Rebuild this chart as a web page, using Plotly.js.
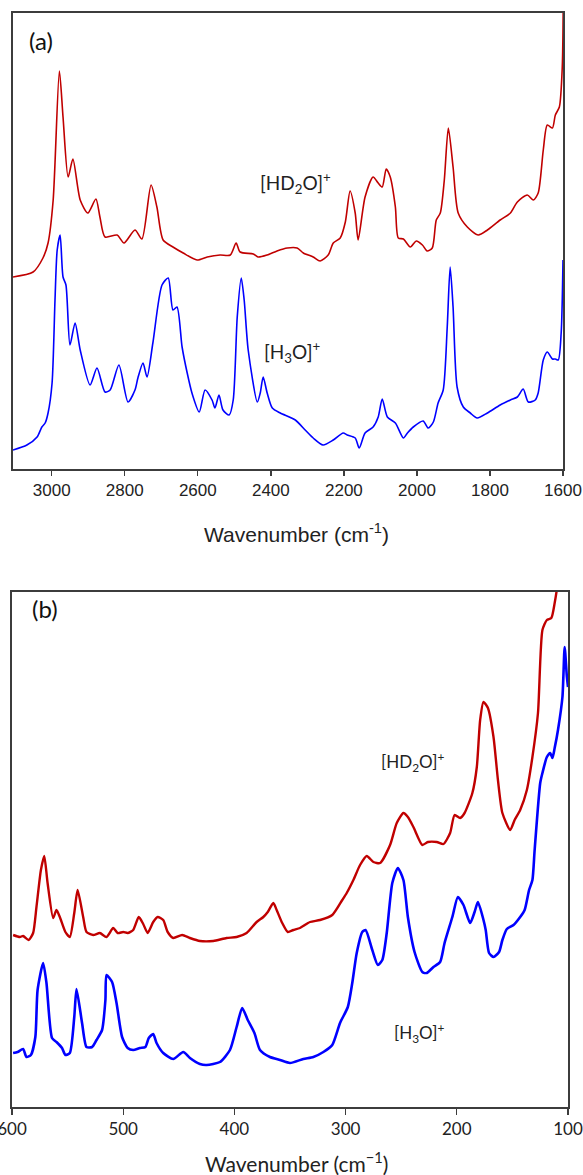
<!DOCTYPE html>
<html>
<head>
<meta charset="utf-8">
<script src="https://cdn.plot.ly/plotly-3.0.1.min.js"></script>
<style>html,body{margin:0;padding:0;background:#fff;}#chart{width:583px;height:1175px;}</style>
</head>
<body>
<div id="chart"></div>
<script>
// Panel (a): 3100-1600 cm-1, intensity in arbitrary units
const redA_wn = [3106,3051,3024,3010,2996,2979,2969,2955,2942,2922,2901,2879,2868,2854,2821,2802,2772,2753,2728,2712,2695,2668,2640,2602,2574,2539,2511,2495,2484,2448,2435,2410,2383,2355,2328,2311,2284,2265,2243,2229,2210,2196,2183,2169,2161,2142,2120,2106,2095,2084,2073,2059,2051,2037,2018,2002,1985,1972,1958,1947,1936,1925,1914,1901,1887,1862,1832,1807,1772,1744,1725,1698,1681,1668,1654,1643,1629,1621,1610,1602,1599];
const redA_int = [192,197,211,226,269,398,352,292,310,269,256,270,252,232,234,226,239,230,284,262,229,222,216,209,212,214,214,226,217,215,212,214,218,221,221,216,212,208,214,226,231,247,278,256,229,272,292,286,282,300,292,262,231,230,222,228,224,218,221,249,256,289,341,302,256,242,234,239,249,256,267,274,269,276,319,344,341,354,362,402,480];
const blueA_wn = [3106,3068,3040,3027,3018,3010,2999,2991,2985,2977,2969,2961,2950,2936,2922,2895,2876,2854,2840,2816,2791,2772,2764,2750,2739,2723,2698,2681,2668,2657,2643,2629,2616,2596,2580,2561,2553,2542,2531,2514,2503,2492,2481,2473,2462,2437,2429,2421,2410,2396,2374,2333,2306,2284,2257,2229,2202,2191,2169,2158,2142,2120,2106,2095,2081,2059,2037,2026,2010,1983,1969,1955,1942,1928,1917,1909,1901,1890,1873,1854,1835,1807,1772,1744,1725,1709,1695,1676,1668,1654,1643,1629,1621,1613,1605,1600];
const blueA_int = [19,24,32,42,46,56,86,169,219,234,192,184,124,146,119,84,101,77,79,104,67,79,91,106,92,126,184,191,159,162,122,96,76,57,79,69,61,74,59,54,69,152,191,169,119,67,76,92,76,61,56,49,39,31,24,29,36,34,31,21,36,42,52,70,52,46,31,36,42,48,41,47,66,79,142,202,162,82,62,56,51,56,64,69,72,80,67,69,76,109,117,110,110,109,136,209];

// Panel (b): 600-100 cm-1
const redB_wn = [599,593,590,585,581,578,574,571,568,563,560,557,552,548,544,541,536,533,527,521,515,509,505,500,496,491,486,482,478,473,469,464,460,455,447,440,431,419,407,398,389,380,374,370,365,362,357,352,347,341,332,323,312,303,299,293,287,281,275,269,260,254,248,244,239,231,226,218,212,206,202,197,193,186,182,179,176,172,167,163,159,152,148,143,137,132,127,123,119,115,112,109,106];
const redB_int = [172,170,171,167,174,200,237,251,224,189,197,190,175,170,194,217,190,175,172,174,170,179,174,175,174,177,190,183,174,185,190,187,175,169,172,169,166,166,169,170,174,185,190,195,204,197,184,175,177,179,185,187,192,207,214,227,242,251,245,244,262,284,294,290,280,262,265,265,263,274,292,289,294,314,340,387,405,399,370,327,294,277,287,297,317,350,394,477,487,489,504,527,580];
const blueB_wn = [599,595,590,587,583,579,577,572,569,564,560,555,552,548,544,542,537,533,528,524,519,516,515,510,506,501,496,491,485,480,477,473,470,464,455,446,440,431,425,413,404,398,393,388,382,377,368,359,350,338,329,320,312,305,298,294,290,285,282,276,271,267,263,258,253,248,244,238,231,227,221,215,211,204,199,194,188,184,181,176,174,171,167,162,159,155,149,143,139,135,132,130,125,123,119,116,114,112,109,105,103,101,100];
const blueB_int = [54,55,58,50,52,70,117,144,124,69,65,59,52,54,90,118,84,60,60,67,77,107,132,125,104,70,59,57,59,60,69,73,64,54,48,55,49,43,42,45,57,80,99,87,74,57,50,47,44,48,50,55,62,84,100,124,154,175,177,157,142,147,174,224,239,227,190,155,135,134,140,145,164,190,210,202,184,195,205,187,177,154,150,155,167,178,182,190,197,217,227,257,324,334,350,354,349,359,377,410,460,430,420];

const ticksA = [3000,2800,2600,2400,2200,2000,1800,1600];
const ticksB = [600,500,400,300,200,100];

const RED = '#C00000', BLUE = '#0000FF', FRAME = '#3c3c3c';
const H = 1175, W = 583;
const py = p => 1 - p / H, px = p => p / W;

const traces = [
  {x: redA_wn, y: redA_int, xaxis: 'x', yaxis: 'y', mode: 'lines', line: {color: RED, width: 1.6, shape: 'spline', smoothing: 0.7}, hoverinfo: 'skip'},
  {x: blueA_wn, y: blueA_int, xaxis: 'x', yaxis: 'y', mode: 'lines', line: {color: BLUE, width: 1.6, shape: 'spline', smoothing: 0.7}, hoverinfo: 'skip'},
  {x: redB_wn, y: redB_int, xaxis: 'x2', yaxis: 'y2', mode: 'lines', line: {color: RED, width: 2.4, shape: 'spline', smoothing: 0.6}, hoverinfo: 'skip'},
  {x: blueB_wn, y: blueB_int, xaxis: 'x2', yaxis: 'y2', mode: 'lines', line: {color: BLUE, width: 2.6, shape: 'spline', smoothing: 0.6}, hoverinfo: 'skip'}
];

const axBase = {showline: true, linecolor: FRAME, linewidth: 1.6, mirror: true, showgrid: false, zeroline: false, fixedrange: true};

const layout = {
  width: W, height: H,
  margin: {l: 0, r: 0, t: 0, b: 0},
  paper_bgcolor: '#fff', plot_bgcolor: '#fff',
  showlegend: false,
  xaxis: Object.assign({}, axBase, {
    domain: [px(13), px(563)], range: [3106, 1600], anchor: 'y',
    tickmode: 'array', tickvals: ticksA, ticktext: ticksA.map(String),
    ticks: 'outside', ticklen: 5, tickwidth: 1.4, tickcolor: FRAME,
    ticklabeloverflow: 'allow',
    tickfont: {family: 'Liberation Sans, Arial, sans-serif', size: 17, color: '#222'}
  }),
  yaxis: Object.assign({}, axBase, {
    domain: [py(469), py(13)], range: [0, 456], anchor: 'x',
    showticklabels: false, ticks: ''
  }),
  xaxis2: Object.assign({}, axBase, {
    domain: [px(12), px(568)], range: [600, 100], anchor: 'y2',
    tickmode: 'array', tickvals: ticksB, ticktext: ticksB.map(String),
    ticks: 'outside', ticklen: 6, tickwidth: 1.4, tickcolor: FRAME,
    ticklabeloverflow: 'allow',
    tickfont: {family: 'Lato, sans-serif', size: 17, color: '#222'}
  }),
  yaxis2: Object.assign({}, axBase, {
    domain: [py(1107), py(592)], range: [0, 515], anchor: 'x2',
    showticklabels: false, ticks: ''
  }),
  annotations: [
    {xref: 'paper', yref: 'paper', x: px(41), y: py(40), text: '(a)', showarrow: false, xanchor: 'center', yanchor: 'middle', font: {family: 'Lato, sans-serif', size: 24, color: '#111'}},
    {xref: 'paper', yref: 'paper', x: px(295), y: py(183), text: '[HD<sub>2</sub>O]<sup>+</sup>', showarrow: false, xanchor: 'center', yanchor: 'middle', font: {family: 'Lato, sans-serif', size: 19, color: '#222'}},
    {xref: 'paper', yref: 'paper', x: px(292), y: py(352), text: '[H<sub>3</sub>O]<sup>+</sup>', showarrow: false, xanchor: 'center', yanchor: 'middle', font: {family: 'Lato, sans-serif', size: 19, color: '#222'}},
    {xref: 'paper', yref: 'paper', x: px(296.5), y: py(533), text: 'Wavenumber (cm<sup>-1</sup>)', showarrow: false, xanchor: 'center', yanchor: 'middle', font: {family: 'Liberation Sans, Arial, sans-serif', size: 21, color: '#222'}},
    {xref: 'paper', yref: 'paper', x: px(45), y: py(608), text: '(b)', showarrow: false, xanchor: 'center', yanchor: 'middle', font: {family: 'Lato, sans-serif', size: 24, color: '#111'}},
    {xref: 'paper', yref: 'paper', x: px(412), y: py(762), text: '[HD<sub>2</sub>O]<sup>+</sup>', showarrow: false, xanchor: 'center', yanchor: 'middle', font: {family: 'Lato, sans-serif', size: 17, color: '#222'}},
    {xref: 'paper', yref: 'paper', x: px(419), y: py(1033), text: '[H<sub>3</sub>O]<sup>+</sup>', showarrow: false, xanchor: 'center', yanchor: 'middle', font: {family: 'Lato, sans-serif', size: 17, color: '#222'}},
    {xref: 'paper', yref: 'paper', x: px(296), y: py(1162), text: 'Wavenumber (cm<sup>\u22121</sup>)', showarrow: false, xanchor: 'center', yanchor: 'middle', font: {family: 'Lato, sans-serif', size: 21, color: '#222'}}
  ]
};

Plotly.newPlot('chart', traces, layout, {displayModeBar: false, staticPlot: true});
</script>
</body>
</html>
